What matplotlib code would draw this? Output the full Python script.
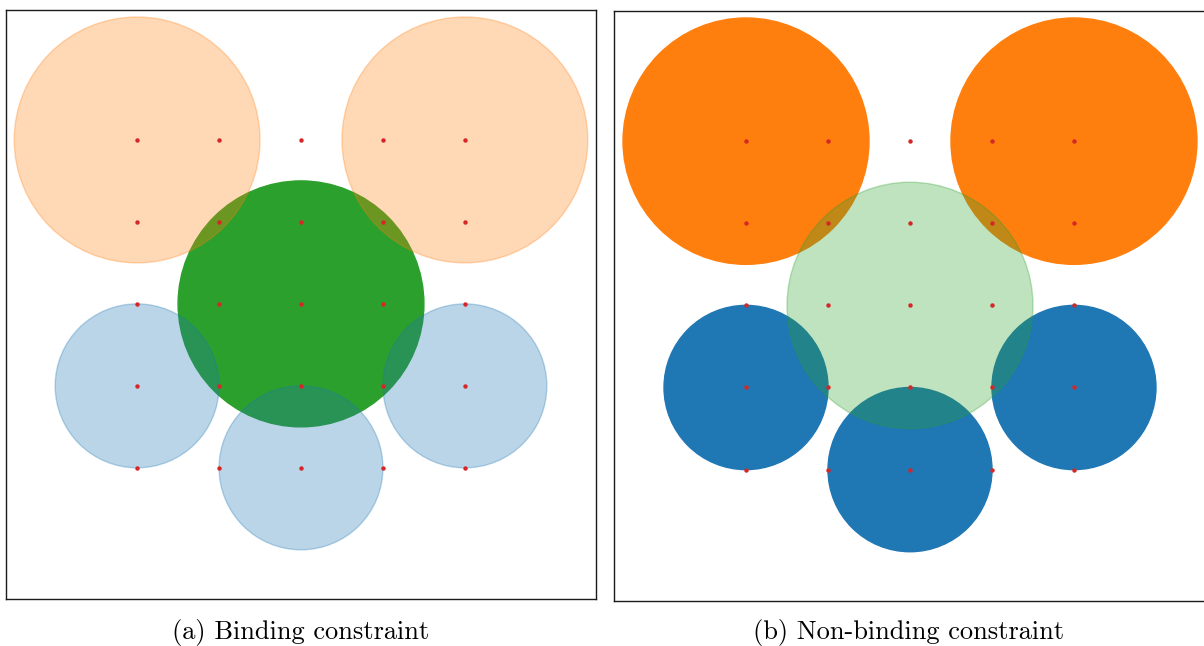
import matplotlib
matplotlib.use("Agg")
import matplotlib.pyplot as plt
from matplotlib.patches import Circle

# lattice of candidate points
grid_x = [-2, -1, 0, 1, 2]
grid_y = [-2, -1, 0, 1, 2]

# constraint discs (centre, radius)
orange_centers = [(-2, 2), (2, 2)]
orange_radius = 1.5
green_centers = [(0, 0)]
green_radius = 1.5
blue_centers = [(-2, -1), (2, -1), (0, -2)]
blue_radius = 1.0

captions = ["(a) Binding constraint", "(b) Non-binding constraint"]

W, H = 1204, 646
fig = plt.figure(figsize=(W / 100, H / 100), dpi=100)


def add_axes_px(left, top, right, bottom):
    return fig.add_axes([left / W, 1 - bottom / H, (right - left) / W, (bottom - top) / H])


def draw_panel(ax, binding, xlim, ylim):
    solid, faded = 1.0, 0.3
    if binding:
        a_orange, a_green, a_blue = faded, solid, faded
    else:
        a_orange, a_green, a_blue = solid, faded, solid

    discs = []
    for c in orange_centers:
        discs.append((Circle(c, orange_radius, color="tab:orange", alpha=a_orange), a_orange))
    for c in blue_centers:
        discs.append((Circle(c, blue_radius, color="tab:blue", alpha=a_blue), a_blue))
    for c in green_centers:
        discs.append((Circle(c, green_radius, color="tab:green", alpha=a_green), a_green))

    # opaque discs underneath, translucent ones layered on top
    for patch, a in sorted(discs, key=lambda d: -d[1]):
        ax.add_patch(patch)

    xs = [x for y in grid_y for x in grid_x]
    ys = [y for y in grid_y for x in grid_x]
    ax.plot(xs, ys, "o", color="tab:red", ms=3.2, mew=0, zorder=5)

    ax.set_xlim(*xlim)
    ax.set_ylim(*ylim)
    ax.set_xticks([])
    ax.set_yticks([])
    for s in ax.spines.values():
        s.set_linewidth(1.0)
        s.set_color("#1a1a1a")


ax1 = add_axes_px(6, 10, 596, 599)
draw_panel(ax1, True, (-3.6, 3.6), (-3.6, 3.585))

ax2 = add_axes_px(614, 11, 1206, 601)
draw_panel(ax2, False, (-3.61, 3.61), (-3.6, 3.585))

cap_font = dict(family="cmr10", size=19, ha="center", va="center")
fig.text(301 / W, 1 - 633 / H, captions[0], **cap_font)
fig.text(909 / W, 1 - 633 / H, captions[1], **cap_font)

fig.savefig("out.png", dpi=100)
